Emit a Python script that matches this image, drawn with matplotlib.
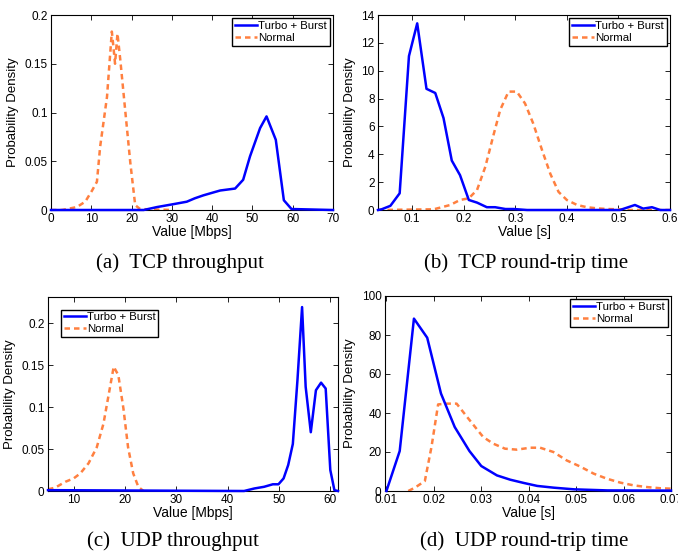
import matplotlib
matplotlib.use("Agg")
import matplotlib.pyplot as plt

plt.rcParams['font.family'] = ['Liberation Sans', 'DejaVu Sans']

BLUE = '#0000ff'
ORANGE = '#ff8040'

# (a) TCP throughput
a_turbo_x = [0, 23, 26.3, 30.4, 33.7, 35.7, 37.8, 40.3, 42, 45.7, 47.7, 49.4, 51.9, 53.5, 55.8, 57.8, 59.7, 70]
a_turbo_y = [0, 0, 0.003, 0.006, 0.0085, 0.012, 0.015, 0.018, 0.02, 0.022, 0.031, 0.055, 0.084, 0.096, 0.072, 0.01, 0.001, 0]
a_norm_x = [0, 2.7, 6.4, 8.5, 10.2, 11.4, 12.2, 13.9, 15.1, 15.5, 15.9, 16.5, 17.2, 18.4, 19.7, 20.9, 22.1, 30]
a_norm_y = [0, 0, 0.003, 0.0085, 0.02, 0.029, 0.065, 0.116, 0.183, 0.167, 0.15, 0.181, 0.154, 0.103, 0.048, 0.005, 0.001, 0]

# (b) TCP round-trip time
b_turbo_x = [0.034, 0.041, 0.058, 0.076, 0.094, 0.110, 0.128, 0.145, 0.161, 0.177, 0.193, 0.210, 0.226,
             0.245, 0.261, 0.281, 0.297, 0.323, 0.503, 0.532, 0.548, 0.565, 0.581, 0.6]
b_turbo_y = [0, 0.05, 0.3, 1.2, 11.05, 13.4, 8.7, 8.4, 6.6, 3.55, 2.5, 0.72, 0.53,
             0.2, 0.2, 0.07, 0.07, 0, 0, 0.36, 0.1, 0.2, 0, 0]
b_norm_x = [0.034, 0.142, 0.174, 0.193, 0.21, 0.226, 0.242, 0.258, 0.271, 0.287, 0.303, 0.319, 0.335,
            0.352, 0.368, 0.384, 0.4, 0.42, 0.439, 0.458, 0.478, 0.503, 0.523, 0.6]
b_norm_y = [0, 0.05, 0.36, 0.72, 0.84, 1.44, 3.1, 5.4, 7.2, 8.5, 8.5, 7.65, 6.2,
            4.3, 2.6, 1.3, 0.72, 0.36, 0.2, 0.12, 0.07, 0.05, 0, 0]

# (c) UDP throughput
c_turbo_x = [5, 43.2, 45.2, 47.1, 48.8, 49.9, 50.9, 51.8, 52.7, 53.6, 54.5, 55.2, 56.2, 57.2, 58.2, 59.1, 60, 60.8, 61.5]
c_turbo_y = [0.001, 0, 0.003, 0.005, 0.008, 0.008, 0.015, 0.031, 0.056, 0.132, 0.219, 0.124, 0.070, 0.12, 0.129, 0.122, 0.025, 0.001, 0]
c_norm_x = [5, 6.4, 8.4, 10, 11.3, 12.9, 14.5, 15.8, 16.8, 17.8, 18.7, 19.7, 20.6, 21.6, 22.6, 23.6]
c_norm_y = [0.002, 0.004, 0.011, 0.015, 0.021, 0.033, 0.052, 0.08, 0.114, 0.148, 0.138, 0.098, 0.052, 0.021, 0.005, 0]

# (d) UDP round-trip time
d_turbo_x = [0.01, 0.0128, 0.0158, 0.0186, 0.0215, 0.0244, 0.0275, 0.03, 0.0333, 0.0361, 0.039, 0.0418,
             0.0453, 0.0496, 0.0566, 0.07]
d_turbo_y = [0, 20.5, 88.4, 78.6, 50, 32.8, 20.5, 12.8, 8, 5.8, 4.1, 2.6, 1.7, 0.85, 0.3, 0.2]
d_norm_x = [0.0146, 0.0160, 0.0181, 0.0195, 0.0209, 0.0227, 0.0248, 0.0269, 0.0287, 0.0304, 0.0325, 0.035,
            0.0375, 0.0403, 0.0424, 0.0452, 0.048, 0.0508, 0.0537, 0.0565, 0.0593, 0.0621, 0.065, 0.0678, 0.07]
d_norm_y = [0, 1.7, 5.1, 22.6, 44.4, 44.8, 44.8, 38.3, 32.8, 27.7, 24.3, 21.7,
            21.2, 22.2, 22.2, 20, 15.7, 12.6, 8.9, 6.3, 4.3, 2.9, 2, 1.4, 1.2]

captions = ['(a)  TCP throughput', '(b)  TCP round-trip time',
            '(c)  UDP throughput', '(d)  UDP round-trip time']

W, H = 678, 554
fig = plt.figure(figsize=(W / 100, H / 100), dpi=100)


def px_axes(left, top, right, bottom):
    return fig.add_axes([left / W, 1 - bottom / H, (right - left) / W, (bottom - top) / H])


panels = [
    dict(box=(51, 15, 333, 210), tx=a_turbo_x, ty=a_turbo_y, nx=a_norm_x, ny=a_norm_y,
         xlim=(0, 70), ylim=(0, 0.2), xticks=range(0, 71, 10), yticks=[0, 0.05, 0.1, 0.15, 0.2],
         ytl=['0', '0.05', '0.1', '0.15', '0.2'], xtl=None, xlabel='Value [Mbps]', loc='upper right',
         cap=(180, 263)),
    dict(box=(378, 15, 670, 210), tx=b_turbo_x, ty=b_turbo_y, nx=b_norm_x, ny=b_norm_y,
         xlim=(0.034, 0.6), ylim=(0, 14), xticks=[0.1, 0.2, 0.3, 0.4, 0.5, 0.6], yticks=range(0, 15, 2),
         ytl=None, xtl=['0.1', '0.2', '0.3', '0.4', '0.5', '0.6'], xlabel='Value [s]', loc='upper right',
         cap=(526, 263)),
    dict(box=(48, 297, 338, 491), tx=c_turbo_x, ty=c_turbo_y, nx=c_norm_x, ny=c_norm_y,
         xlim=(5, 61.5), ylim=(0, 0.231), xticks=range(10, 61, 10), yticks=[0, 0.05, 0.1, 0.15, 0.2],
         ytl=['0', '0.05', '0.1', '0.15', '0.2'], xtl=None, xlabel='Value [Mbps]', loc='upper left',
         cap=(173, 541)),
    dict(box=(385, 296, 671, 491), tx=d_turbo_x, ty=d_turbo_y, nx=d_norm_x, ny=d_norm_y,
         xlim=(0.0097, 0.07), ylim=(0, 100), xticks=[0.01, 0.02, 0.03, 0.04, 0.05, 0.06, 0.07],
         yticks=range(0, 101, 20), ytl=None,
         xtl=['0.01', '0.02', '0.03', '0.04', '0.05', '0.06', '0.07'], xlabel='Value [s]', loc='upper right',
         cap=(524, 541)),
]

for i, p in enumerate(panels):
    ax = px_axes(*p['box'])
    ax.plot(p['tx'], p['ty'], color=BLUE, lw=1.8, label='Turbo + Burst', clip_on=False, zorder=3)
    ax.plot(p['nx'], p['ny'], color=ORANGE, lw=1.8, ls=(0, (2.2, 1.6)), label='Normal', zorder=2)
    ax.set_xlim(*p['xlim'])
    ax.set_ylim(*p['ylim'])
    ax.set_xticks(list(p['xticks']))
    ax.set_yticks(list(p['yticks']))
    if p['xtl']:
        ax.set_xticklabels(p['xtl'])
    if p['ytl']:
        ax.set_yticklabels(p['ytl'])
    ax.tick_params(direction='in', top=True, right=True, length=3.5, width=0.6, labelsize=8.5, pad=2.5)
    for s in ax.spines.values():
        s.set_linewidth(0.8)
    ax.set_xlabel(p['xlabel'], fontsize=10, labelpad=0)
    ax.set_ylabel('Probability Density', fontsize=9.5, labelpad=4)
    leg_opts = dict(fontsize=8.2, handlelength=1.9, handletextpad=0.1, borderpad=0.25,
                    labelspacing=0.15, fancybox=False, edgecolor='black', framealpha=1)
    if p['loc'] == 'upper left':
        leg = ax.legend(loc='upper left', bbox_to_anchor=(0.045, 0.935), borderaxespad=0, **leg_opts)
    else:
        leg = ax.legend(loc='upper right', borderaxespad=0.3, **leg_opts)
    leg.get_frame().set_linewidth(1.0)
    cx, cy = p['cap']
    fig.text(cx / W, 1 - cy / H, captions[i], ha='center', va='center', fontsize=15,
             family=['Liberation Serif', 'DejaVu Serif'])

fig.savefig('out.png', dpi=100)
